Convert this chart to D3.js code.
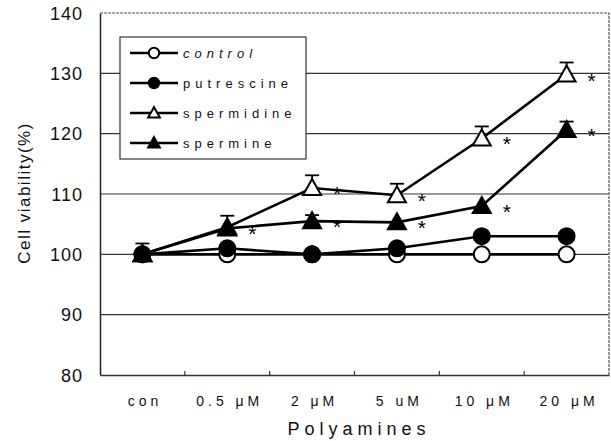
<!DOCTYPE html>
<html><head><meta charset="utf-8">
<script src="https://cdn.jsdelivr.net/npm/d3@7/dist/d3.min.js"></script>
<style>body{margin:0;background:#fff}svg{display:block}text{font-family:Arial,"Liberation Sans",sans-serif}</style>
</head><body><svg id="c" width="611" height="441"></svg>
<script>
const categories = ["con","0.5 μM","2 μM","5 uM","10 μM","20 μM"];
const yTicks = [80,90,100,110,120,130,140];
const seriesNames = ["control","putrescine","spermidine","spermine"];
const control    = [100,100,100,100,100,100];
const putrescine = [100,101,100,101,103,103];
const spermidine = [100,104.5,111,109.8,119.2,129.8];
const spermine   = [100,104.3,105.5,105.3,108,120.6];
const errControl    = [1.8,0,0,0,0,0];
const errPutrescine = [0,0,0,0,0,0];
const errSpermidine = [0,1.9,2.1,1.9,2.0,2.0];
const errSpermine   = [0,0,1.0,0,0,1.4];
const sigSpermidine = [0,0,1,1,1,1];
const sigSpermine   = [0,1,1,1,1,1];

const svg = d3.select("#c");
const L=100,R=609,T=13,B=375;
const x = d3.scalePoint().domain(categories).range([L,R]).padding(0.5);
const xb = d3.scaleBand().domain(categories).range([L,R]);
const y = d3.scaleLinear().domain([80,140]).range([B,T]);

svg.append("g").selectAll("line").data(yTicks.filter(v=>v>80&&v<140)).join("line")
  .attr("x1",L).attr("x2",R).attr("y1",d=>y(d)).attr("y2",d=>y(d))
  .attr("stroke","#333").attr("stroke-width",1.2);
svg.append("path").attr("d",`M${L},${T}H${R}V${B}`).attr("fill","none").attr("stroke","#555").attr("stroke-width",1.2).attr("stroke-dasharray","3,1");
const ya = svg.append("g").attr("transform",`translate(${L},0)`).call(d3.axisLeft(y).tickValues(yTicks).tickSize(0).tickPadding(17));
ya.select(".domain").attr("stroke","#222").attr("stroke-width",1.5);
ya.selectAll("text").attr("font-size",18).attr("fill","#111").attr("dy","0.35em").attr("letter-spacing","1px");
const xa = svg.append("g").attr("transform",`translate(0,${B})`).call(d3.axisBottom(x).tickSize(0).tickPadding(21));
xa.select(".domain").attr("stroke","#333").attr("stroke-width",1.5);
xa.selectAll("text").attr("font-size",14).attr("fill","#111").attr("letter-spacing","4px").attr("dx","2px");
svg.append("g").selectAll("line").data(categories.slice(1)).join("line")
  .attr("x1",d=>xb(d)).attr("x2",d=>xb(d)).attr("y1",B).attr("y2",B-4).attr("stroke","#333").attr("stroke-width",1.2);

svg.append("text").attr("transform",`translate(30,193) rotate(-90)`).attr("text-anchor","middle")
  .attr("font-size",17).attr("letter-spacing","1.5px").attr("fill","#111").text("Cell viability(%)");
svg.append("text").attr("x",359).attr("y",435).attr("text-anchor","middle").attr("font-size",18)
  .attr("letter-spacing","5px").attr("fill","#111").text("Polyamines");

const series = [
  {name:seriesNames[0],vals:control,err:errControl,sig:null,shape:"circle",fill:"#fff"},
  {name:seriesNames[1],vals:putrescine,err:errPutrescine,sig:null,shape:"circle",fill:"#000"},
  {name:seriesNames[2],vals:spermidine,err:errSpermidine,sig:sigSpermidine,shape:"tri",fill:"#fff"},
  {name:seriesNames[3],vals:spermine,err:errSpermine,sig:sigSpermine,shape:"tri",fill:"#000"}
];
const line = d3.line().x((d,i)=>x(categories[i])).y(d=>y(d));
function marker(g,s,cx,cy,sc=1){
  if(s.shape==="circle") g.append("circle").attr("cx",cx).attr("cy",cy).attr("r",8*sc)
     .attr("fill",s.fill).attr("stroke","#000").attr("stroke-width",2);
  else g.append("path").attr("d",`M${cx},${cy-9*sc}L${cx+9*sc},${cy+7*sc}L${cx-9*sc},${cy+7*sc}Z`)
     .attr("fill",s.fill).attr("stroke","#000").attr("stroke-width",2).attr("stroke-linejoin","miter");
}
const plot = svg.append("g");
series.forEach(s=>{
  s.err.forEach((e,i)=>{ if(e>0){
    const cx=x(categories[i]);
    plot.append("line").attr("x1",cx).attr("x2",cx).attr("y1",y(s.vals[i])).attr("y2",y(s.vals[i]+e)).attr("stroke","#000").attr("stroke-width",1.8);
    plot.append("line").attr("x1",cx-7).attr("x2",cx+7).attr("y1",y(s.vals[i]+e)).attr("y2",y(s.vals[i]+e)).attr("stroke","#000").attr("stroke-width",1.8);
  }});
});
series.forEach(s=>{
  plot.append("path").datum(s.vals).attr("d",line).attr("fill","none").attr("stroke","#000").attr("stroke-width",2.6);
});
series.forEach(s=>{
  s.vals.forEach((v,i)=>marker(plot,s,x(categories[i]),y(v)));
  if(s.sig) s.sig.forEach((f,i)=>{ if(f){
    plot.append("text").attr("x",x(categories[i])+25).attr("y",y(s.vals[i])+13).attr("font-size",21).attr("text-anchor","middle").attr("fill","#000").text("*");
  }});
});
const lg = svg.append("g");
lg.append("rect").attr("x",120).attr("y",37).attr("width",186).attr("height",122).attr("fill","#fff").attr("stroke","#333").attr("stroke-width",1.2);
series.forEach((s,i)=>{
  const yy = 53 + i*30;
  lg.append("line").attr("x1",130).attr("x2",178).attr("y1",yy).attr("y2",yy).attr("stroke","#000").attr("stroke-width",2.6);
  marker(lg,s,154,yy,0.65);
  lg.append("text").attr("x",183).attr("y",yy).attr("dy","0.35em").attr("font-size",13).attr("letter-spacing","5px")
    .attr("fill","#111").attr("font-style",i===0?"italic":"normal").text(s.name);
});
</script></body></html>
